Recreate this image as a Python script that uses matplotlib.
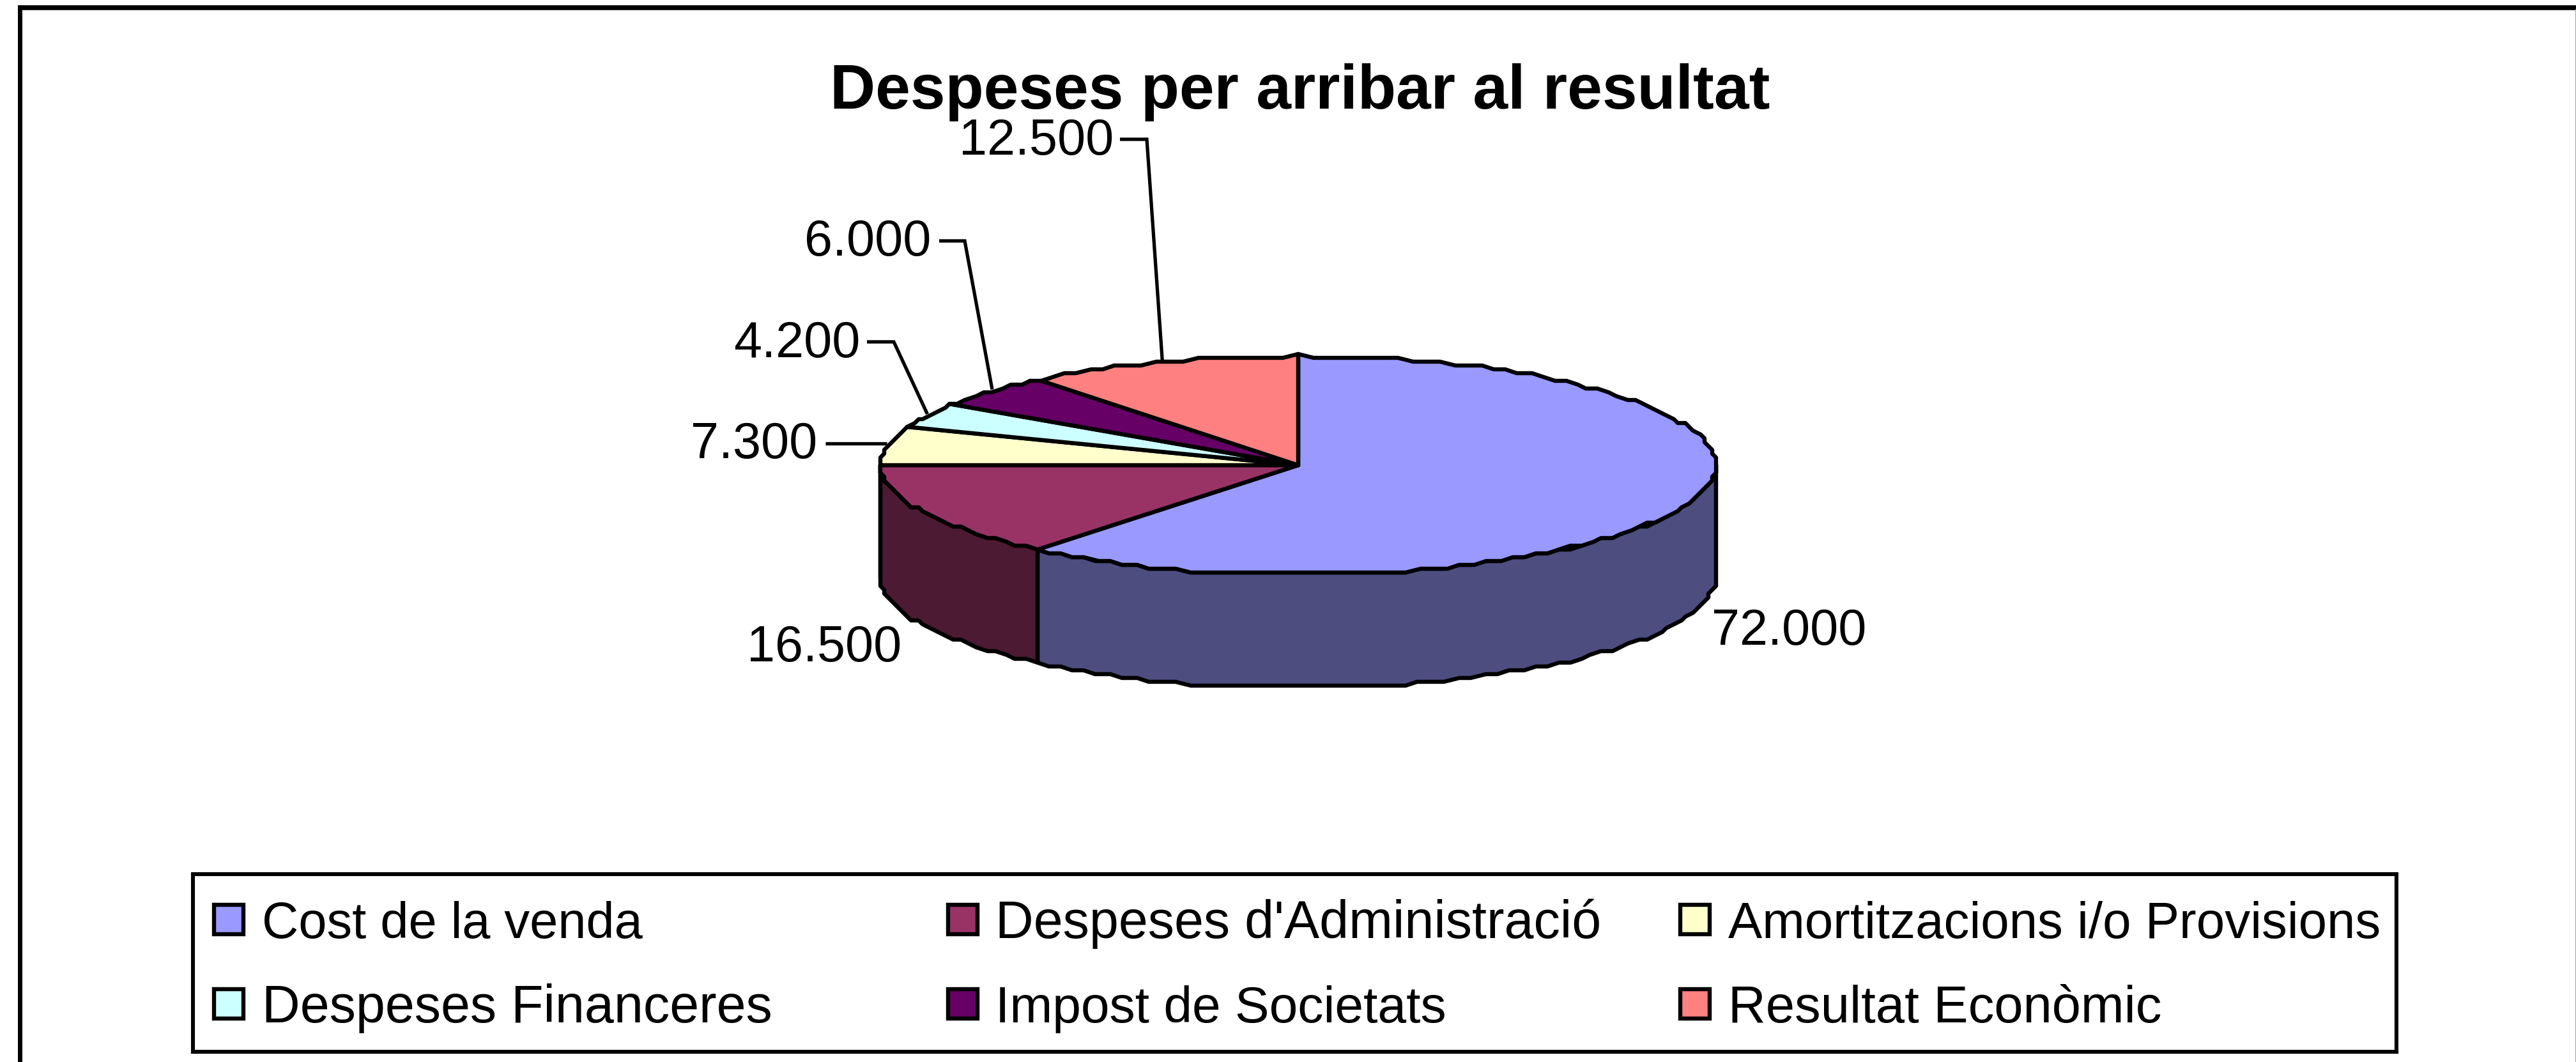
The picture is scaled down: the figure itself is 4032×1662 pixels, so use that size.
import numpy as np
import matplotlib
matplotlib.use("Agg")
import matplotlib.pyplot as plt
from matplotlib.patches import Rectangle, Polygon

plt.rcParams["font.family"] = ["Liberation Sans", "DejaVu Sans"]

title = "Despeses per arribar al resultat"
categories = ["Cost de la venda", "Despeses d'Administració", "Amortitzacions i/o Provisions",
              "Despeses Financeres", "Impost de Societats", "Resultat Econòmic"]
values = [72000, 16500, 7300, 4200, 6000, 12500]
value_labels = ["72.000", "16.500", "7.300", "4.200", "6.000", "12.500"]
colors = ["#9999FF", "#993366", "#FFFFCC", "#CCFFFF", "#660066", "#FF8080"]
side_colors = ["#4D4D80", "#4D1A33", "#80806A", "#6A8080", "#330033", "#804040"]

# layout in image pixels
W, H = 4032, 1662
cx, cy, rx, ry, depth = 2032, 728, 654, 174, 177
GRID = 6
label_pos = [(2800, 1009), (1290, 1035), (1180, 717), (1247, 559), (1358, 400), (1622, 242)]
elbows = [None, None, [(1292, 694)], [(1357, 535), (1399, 535)],
          [(1470, 377), (1510, 377)], [(1753, 218), (1795, 218)]]
legend_x = [(332, 410), (1481, 1558), (2627, 2705)]
legend_y = [(1413, 1468), (1545, 1600)]
# the reference text is spaced a bit unevenly, so each entry gets its own size
legend_sizes = [57.2, 59.5, 57.5, 59.5, 57.9, 58.6]

fig = plt.figure(figsize=(W / 100, H / 100), dpi=100, facecolor="white")
ax = fig.add_axes([0, 0, 1, 1])
ax.set_xlim(0, W)
ax.set_ylim(H, 0)
ax.axis("off")


# angle measured clockwise from 12 o'clock, in degrees
def ell(a, dy=0):
    a = np.radians(a)
    x = rx * np.sin(a)
    y = -ry * np.cos(a)
    # the original outline is stepped, it comes from a low resolution metafile
    return np.column_stack([cx + np.round(x / GRID) * GRID, cy + dy + np.trunc(y / GRID) * GRID])


def arc(a0, a1, dy=0):
    n = max(2, int(abs(a1 - a0) / 2) + 2)
    return ell(np.linspace(a0, a1, n), dy)


edges = np.concatenate([[0], np.cumsum(values)]) / sum(values) * 360

# outer frame
ax.plot([31, 31], [H, 11], color="black", lw=5, solid_capstyle="butt")
ax.plot([28, W], [11.5, 11.5], color="black", lw=5.5, solid_capstyle="butt")
ax.plot([W - 1, W - 1], [15, H], color="#aaaaaa", lw=1)

# walls only on the front half
for i in range(len(values)):
    a0, a1 = max(edges[i], 90), min(edges[i + 1], 270)
    if a1 <= a0:
        continue
    top = arc(a0, a1)
    bottom = arc(a0, a1, depth)
    ax.add_patch(Polygon(np.vstack([top, bottom[::-1]]), closed=True, fc=side_colors[i],
                         ec="black", lw=4.6, joinstyle="round", zorder=2))

# top faces
for i in range(len(values)):
    pts = np.vstack([[[cx, cy]], arc(edges[i], edges[i + 1])])
    ax.add_patch(Polygon(pts, closed=True, fc=colors[i], ec="black", lw=4.6,
                         joinstyle="round", zorder=3))

# value labels and leaders
for i in range(len(values)):
    ax.text(label_pos[i][0], label_pos[i][1], value_labels[i], fontsize=57, ha="center",
            va="baseline", color="black", zorder=5)
    if elbows[i]:
        mid = np.radians((edges[i] + edges[i + 1]) / 2)
        end = (cx + rx * np.sin(mid), cy - ry * np.cos(mid))
        if len(elbows[i]) == 1:
            end = (end[0], elbows[i][0][1])
        pts = elbows[i] + [end]
        ax.plot([p[0] for p in pts], [p[1] for p in pts], color="black", lw=3.8,
                solid_joinstyle="miter", solid_capstyle="butt", zorder=4)

ax.text(2035, 170, title, fontsize=70.8, fontweight="bold", ha="center", va="baseline", zorder=5)

# legend box
ax.add_patch(Rectangle((302, 1368), 3449, 278, fc="white", ec="black", lw=4.4, zorder=1))
for i, name in enumerate(categories):
    col, row = i % 3, i // 3
    sx, tx = legend_x[col]
    sy, base = legend_y[row]
    ax.add_patch(Rectangle((sx + 3, sy + 3), 46, 46, fc=colors[i], ec="black", lw=4.6, zorder=2))
    ax.text(tx, base, name, fontsize=legend_sizes[i], ha="left", va="baseline", zorder=3)

fig.savefig("out.png", dpi=100, facecolor="white")
